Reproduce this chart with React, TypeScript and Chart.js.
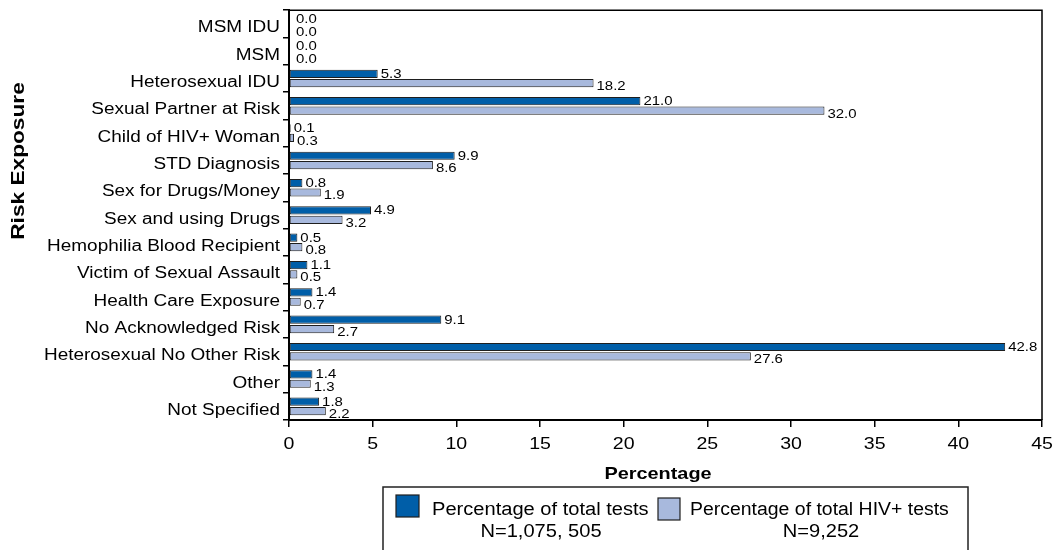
import React, { useEffect, useRef } from "react";
import { Chart, registerables } from "chart.js";

Chart.register(...registerables);

// Risk exposure categories, top to bottom
const categories: string[] = [
  "MSM IDU",
  "MSM",
  "Heterosexual IDU",
  "Sexual Partner at Risk",
  "Child of HIV+ Woman",
  "STD Diagnosis",
  "Sex for Drugs/Money",
  "Sex and using Drugs",
  "Hemophilia Blood Recipient",
  "Victim of Sexual Assault",
  "Health Care Exposure",
  "No Acknowledged Risk",
  "Heterosexual No Other Risk",
  "Other",
  "Not Specified",
];

// Percentage of all tests
const totalTestsPct: number[] = [0.0, 0.0, 5.3, 21.0, 0.1, 9.9, 0.8, 4.9, 0.5, 1.1, 1.4, 9.1, 42.8, 1.4, 1.8];
// Percentage of HIV-positive tests
const hivPositivePct: number[] = [0.0, 0.0, 18.2, 32.0, 0.3, 8.6, 1.9, 3.2, 0.8, 0.5, 0.7, 2.7, 27.6, 1.3, 2.2];

const xTickValues: number[] = [0, 5, 10, 15, 20, 25, 30, 35, 40, 45];

const seriesNames: string[] = ["Percentage of total tests", "Percentage of total HIV+ tests"];
const seriesCounts: string[] = ["N=1,075, 505", "N=9,252"];

const xTitle = "Percentage";
const yTitle = "Risk Exposure";

const DARK = "#005EA8";
const LIGHT = "#A8B9DD";
const EDGE = "#1E1E1E";
const SANS = "Arial, 'Liberation Sans', Helvetica, sans-serif";

// Draws text widened horizontally (along its own direction) by sx.
function wideText(
  ctx: CanvasRenderingContext2D,
  text: string,
  x: number,
  y: number,
  font: string,
  sx: number,
  align: CanvasTextAlign,
  rotate = 0
) {
  ctx.save();
  ctx.translate(x, y);
  if (rotate) ctx.rotate(rotate);
  ctx.scale(sx, 1);
  ctx.font = font;
  ctx.textAlign = align;
  ctx.textBaseline = "alphabetic";
  ctx.fillStyle = "#000";
  ctx.fillText(text, 0, 0);
  ctx.restore();
}

const decorations = {
  id: "decorations",
  afterDraw(chart: any) {
    const ctx: CanvasRenderingContext2D = chart.ctx;
    const area = chart.chartArea;
    const xs = chart.scales.x;
    const ys = chart.scales.y;

    // top and right frame lines
    ctx.save();
    ctx.strokeStyle = "#000";
    ctx.lineWidth = 1.5;
    ctx.beginPath();
    ctx.moveTo(area.left, area.top);
    ctx.lineTo(area.right, area.top);
    ctx.lineTo(area.right, area.bottom);
    ctx.stroke();
    ctx.restore();

    // category labels
    categories.forEach((c, i) => {
      const y = ys.getPixelForValue(i);
      wideText(ctx, c, area.left - 9, y + 8.5, `16px ${SANS}`, 1.185, "right");
    });

    // value axis tick labels
    xTickValues.forEach((v) => {
      wideText(ctx, String(v), xs.getPixelForValue(v), 449, `17px ${SANS}`, 1.15, "center");
    });

    // axis titles
    wideText(ctx, xTitle, 658, 479, `bold 17px ${SANS}`, 1.17, "center");
    wideText(ctx, yTitle, 24, 161, `bold 18px ${SANS}`, 1.26, "center", -Math.PI / 2);

    // value labels at bar ends
    chart.data.datasets.forEach((ds: any, d: number) => {
      const meta = chart.getDatasetMeta(d);
      meta.data.forEach((el: any, i: number) => {
        const v = ds.data[i] as number;
        const x = v === 0 ? area.left + 7 : el.x + 3;
        wideText(ctx, v.toFixed(1), x, el.y + (d === 0 ? 4 : 7), `13px ${SANS}`, 1.15, "left");
      });
    });

    // legend box
    ctx.save();
    ctx.strokeStyle = "#222";
    ctx.lineWidth = 1.5;
    ctx.strokeRect(383, 487, 585, 80);
    ctx.lineWidth = 1.2;
    ctx.fillStyle = DARK;
    ctx.fillRect(396, 495, 23, 22);
    ctx.strokeStyle = EDGE;
    ctx.strokeRect(396, 495, 23, 22);
    ctx.fillStyle = LIGHT;
    ctx.fillRect(658, 498, 22, 22);
    ctx.strokeRect(658, 498, 22, 22);
    ctx.restore();

    wideText(ctx, seriesNames[0], 432, 515, `18px ${SANS}`, 1.116, "left");
    wideText(ctx, seriesCounts[0], 541, 537, `18px ${SANS}`, 1.116, "center");
    wideText(ctx, seriesNames[1], 690, 515, `18px ${SANS}`, 1.08, "left");
    wideText(ctx, seriesCounts[1], 821, 537, `18px ${SANS}`, 1.116, "center");
  },
};

export default function App() {
  const canvasRef = useRef<HTMLCanvasElement | null>(null);

  useEffect(() => {
    const canvas = canvasRef.current;
    if (!canvas) return;
    const chart = new Chart(canvas, {
      type: "bar",
      data: {
        labels: categories,
        datasets: [
          {
            label: seriesNames[0],
            data: totalTestsPct,
            backgroundColor: DARK,
            borderColor: EDGE,
            borderWidth: 1,
            borderSkipped: false,
            categoryPercentage: 0.69,
            barPercentage: 0.87,
          },
          {
            label: seriesNames[1],
            data: hivPositivePct,
            backgroundColor: LIGHT,
            borderColor: EDGE,
            borderWidth: 1,
            borderSkipped: false,
            categoryPercentage: 0.69,
            barPercentage: 0.87,
          },
        ],
      },
      options: {
        indexAxis: "y",
        animation: false,
        responsive: false,
        maintainAspectRatio: false,
        layout: { padding: { top: 6, right: 15, bottom: 0, left: 0 } },
        plugins: {
          legend: { display: false },
          tooltip: { enabled: false },
        },
        scales: {
          x: {
            min: 0,
            max: 45,
            ticks: { stepSize: 5, color: "rgba(0,0,0,0)" },
            grid: { drawOnChartArea: false, drawTicks: true, tickLength: 7, color: "#000", lineWidth: 1.5 },
            border: { display: true, color: "#000", width: 2 },
            afterFit: (s: any) => {
              s.height = 130;
            },
          },
          y: {
            ticks: { color: "rgba(0,0,0,0)" },
            grid: { drawOnChartArea: false, drawTicks: true, tickLength: 6, color: "#000", lineWidth: 1.5, offset: true },
            border: { display: true, color: "#000", width: 2 },
            afterFit: (s: any) => {
              s.width = 289;
            },
          },
        },
      },
      plugins: [decorations],
    });
    return () => chart.destroy();
  }, []);

  return (
    <div style={{ position: "absolute", left: 0, top: 0, width: 1057, height: 550, background: "#fff" }}>
      <canvas ref={canvasRef} width={1057} height={550} style={{ display: "block" }} />
    </div>
  );
}
